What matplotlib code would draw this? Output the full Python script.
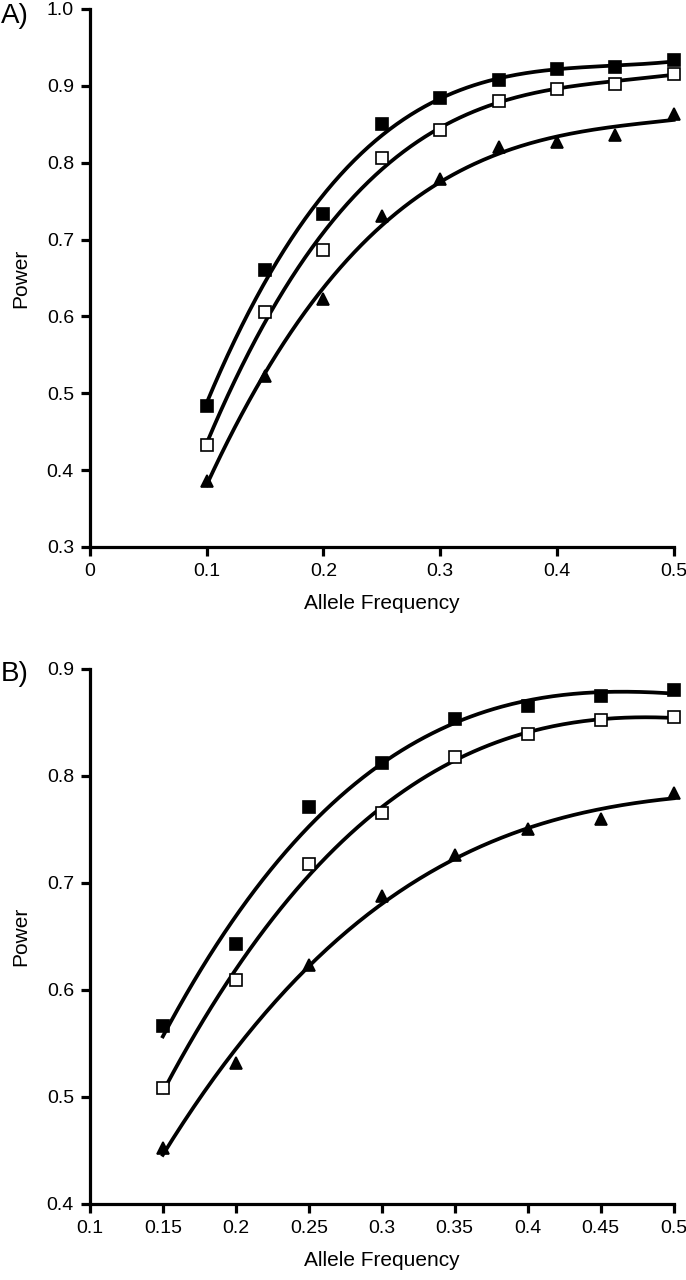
import numpy as np
import matplotlib
matplotlib.use("Agg")
import matplotlib.pyplot as plt

plt.rcParams['font.family'] = ['Liberation Sans', 'DejaVu Sans']

# panel A
freq_a = [0.1, 0.15, 0.2, 0.25, 0.3, 0.35, 0.4, 0.45, 0.5]
filled_a = [0.484, 0.660, 0.733, 0.850, 0.884, 0.908, 0.922, 0.924, 0.933]
open_a = [0.432, 0.606, 0.686, 0.806, 0.843, 0.880, 0.896, 0.903, 0.916]
tri_a = [0.386, 0.522, 0.622, 0.730, 0.779, 0.820, 0.827, 0.836, 0.863]
xticks_a = [0, 0.1, 0.2, 0.3, 0.4, 0.5]
yticks_a = [0.3, 0.4, 0.5, 0.6, 0.7, 0.8, 0.9, 1.0]

# panel B
freq_b = [0.15, 0.2, 0.25, 0.3, 0.35, 0.4, 0.45, 0.5]
filled_b = [0.566, 0.643, 0.771, 0.812, 0.853, 0.865, 0.875, 0.880]
open_b = [0.508, 0.609, 0.718, 0.765, 0.818, 0.839, 0.852, 0.855]
tri_b = [0.452, 0.532, 0.623, 0.688, 0.726, 0.750, 0.760, 0.784]
xticks_b = [0.1, 0.15, 0.2, 0.25, 0.3, 0.35, 0.4, 0.45, 0.5]
yticks_b = [0.4, 0.5, 0.6, 0.7, 0.8, 0.9]


def draw_panel(ax, x, series, xticks, yticks, letter, letter_dy):
    x = np.array(x)
    xs = np.linspace(x.min(), x.max(), 200)
    for y, marker, face in series:
        # polynomial trend line like the original
        coef = np.polyfit(x, y, 3)
        ax.plot(xs, np.polyval(coef, xs), color="black", lw=2.7, zorder=2, clip_on=False)
        ax.plot(x, y, ls="none", marker=marker, markersize=8, markerfacecolor=face,
                markeredgecolor="black", markeredgewidth=1.2, zorder=3, clip_on=False)
    ax.set_xlim(xticks[0], xticks[-1])
    ax.set_ylim(yticks[0], yticks[-1])
    ax.set_xticks(xticks)
    ax.set_yticks(yticks)
    ax.set_xticklabels([f"{t:g}" for t in xticks])
    ax.set_yticklabels([f"{t:.1f}" for t in yticks])
    for s in ["top", "right"]:
        ax.spines[s].set_visible(False)
    for s in ["left", "bottom"]:
        ax.spines[s].set_linewidth(2.3)
    ax.tick_params(direction="out", length=6.5, width=2.3, labelsize=14, pad=5)
    ax.set_xlabel("Allele Frequency", fontsize=15, labelpad=10)
    ax.set_ylabel("Power", fontsize=15, labelpad=12)
    ax.annotate(letter, xy=(0, 1), xycoords="axes fraction", xytext=(-89, letter_dy),
                textcoords="offset pixels", fontsize=20, ha="left", va="center")


fig = plt.figure(figsize=(6.86, 12.8), dpi=100)
ax1 = fig.add_axes([0.131, 0.5727, 0.851, 0.4203])
ax2 = fig.add_axes([0.131, 0.0594, 0.851, 0.418])

draw_panel(ax1, freq_a, [(filled_a, "s", "black"), (open_a, "s", "white"), (tri_a, "^", "black")],
           xticks_a, yticks_a, "A)", -7)
draw_panel(ax2, freq_b, [(filled_b, "s", "black"), (open_b, "s", "white"), (tri_b, "^", "black")],
           xticks_b, yticks_b, "B)", -5)

fig.savefig("out.png", dpi=100)
